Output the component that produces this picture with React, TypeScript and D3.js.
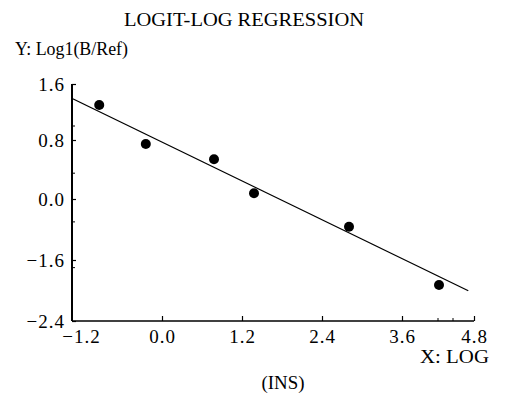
import React, { useEffect, useRef } from "react";
import * as d3 from "d3";

// values
const doseX = [-0.93, -0.24, 0.78, 1.38, 2.805, 4.217];
const logitY = [1.3, 0.746, 0.538, 0.077, -0.727, -1.928];
const fitX = [-1.338, 4.705];
const fitY = [1.396, -2.003];
const xTicks = [-1.2, 0.0, 1.2, 2.4, 3.6, 4.8];
const yTicks = [1.6, 0.8, 0.0, -1.6, -2.4];
const xMinorTicks = [4.2, 4.45];
const yMinorTicks = [1.0, 0.35, -0.6, -1.7];

const fmt = (v: number) => (v < 0 ? "\u2212" : "") + Math.abs(v).toFixed(1);

const App: React.FC = () => {
  const ref = useRef<SVGSVGElement | null>(null);

  useEffect(() => {
    const width = 506,
      height = 394;
    const left = 72;

    const svg = d3.select(ref.current);
    svg.selectAll("*").remove();
    svg.attr("width", width).attr("height", height);

    // the printed axes are not evenly spaced, so the scales are piecewise
    const x = d3.scaleLinear().domain(xTicks).range([81, 162, 242, 322, 402, 474]);
    const y = d3.scaleLinear().domain(yTicks).range([84, 140, 199, 260, 321]);
    const bottom = y(-2.4);

    const font = "'Liberation Serif', 'Times New Roman', serif";

    // y axis
    const gy = svg
      .append("g")
      .attr("transform", `translate(${left},0)`)
      .call(
        d3
          .axisLeft(y)
          .tickValues(yTicks)
          .tickFormat((d) => fmt(d as number))
          .tickSizeInner(-4)
          .tickSizeOuter(0)
          .tickPadding(7)
      );
    gy.select(".domain").remove();
    gy.selectAll("text")
      .attr("font-family", font)
      .attr("font-size", 19)
      .attr("letter-spacing", 1)
      .attr("fill", "#000");
    gy.selectAll("line").attr("stroke", "#000").attr("stroke-width", 1.2);

    svg
      .append("g")
      .selectAll("line")
      .data(yMinorTicks)
      .join("line")
      .attr("x1", left)
      .attr("x2", left + 3)
      .attr("y1", (d) => y(d))
      .attr("y2", (d) => y(d))
      .attr("stroke", "#000");

    // x axis
    const gx = svg
      .append("g")
      .attr("transform", `translate(0,${bottom})`)
      .call(
        d3
          .axisBottom(x)
          .tickValues(xTicks)
          .tickFormat((d) => fmt(d as number))
          .tickSizeInner(-5)
          .tickSizeOuter(0)
          .tickPadding(9)
      );
    gx.select(".domain").remove();
    gx.selectAll("text")
      .attr("font-family", font)
      .attr("font-size", 19)
      .attr("letter-spacing", 1)
      .attr("fill", "#000");
    gx.selectAll("line").attr("stroke", "#000").attr("stroke-width", 1.2);
    gx.selectAll(".tick")
      .filter((d) => d === -1.2)
      .select("line")
      .remove();

    svg
      .append("g")
      .selectAll("line")
      .data(xMinorTicks)
      .join("line")
      .attr("x1", (d) => x(d))
      .attr("x2", (d) => x(d))
      .attr("y1", bottom)
      .attr("y2", bottom - 3)
      .attr("stroke", "#000");

    svg
      .append("line")
      .attr("x1", left)
      .attr("x2", left)
      .attr("y1", y(1.6))
      .attr("y2", bottom)
      .attr("stroke", "#000")
      .attr("stroke-width", 2);
    svg
      .append("line")
      .attr("x1", left)
      .attr("x2", x(4.8))
      .attr("y1", bottom)
      .attr("y2", bottom)
      .attr("stroke", "#000")
      .attr("stroke-width", 1.5);

    // regression line
    const fit = fitX.map((v, i) => [v, fitY[i]] as [number, number]);
    svg
      .append("path")
      .datum(fit)
      .attr(
        "d",
        d3
          .line<[number, number]>()
          .x((d) => x(d[0]))
          .y((d) => y(d[1]))
      )
      .attr("fill", "none")
      .attr("stroke", "#000")
      .attr("stroke-width", 1.3);

    // points
    svg
      .append("g")
      .selectAll("circle")
      .data(doseX)
      .join("circle")
      .attr("cx", (d) => x(d))
      .attr("cy", (d, i) => y(logitY[i]))
      .attr("r", 5)
      .attr("fill", "#000");

    // labels
    const label = (t: string, px: number, py: number, anchor: string, len?: number) => {
      const el = svg
        .append("text")
        .attr("x", px)
        .attr("y", py)
        .attr("text-anchor", anchor)
        .attr("font-family", font)
        .attr("font-size", 18)
        .attr("fill", "#000")
        .text(t);
      if (len) el.attr("textLength", len).attr("lengthAdjust", "spacingAndGlyphs");
    };
    label("LOGIT-LOG REGRESSION", 244, 26, "middle", 240);
    label("Y: Log1(B/Ref)", 15, 55, "start", 113);
    label("X: LOG", 489, 363, "end", 69);
    label("(INS)", 283, 389, "middle", 43);
  }, []);

  return (
    <svg
      ref={ref}
      style={{ position: "absolute", left: 0, top: 0, background: "#fff" }}
    />
  );
};

export default App;
